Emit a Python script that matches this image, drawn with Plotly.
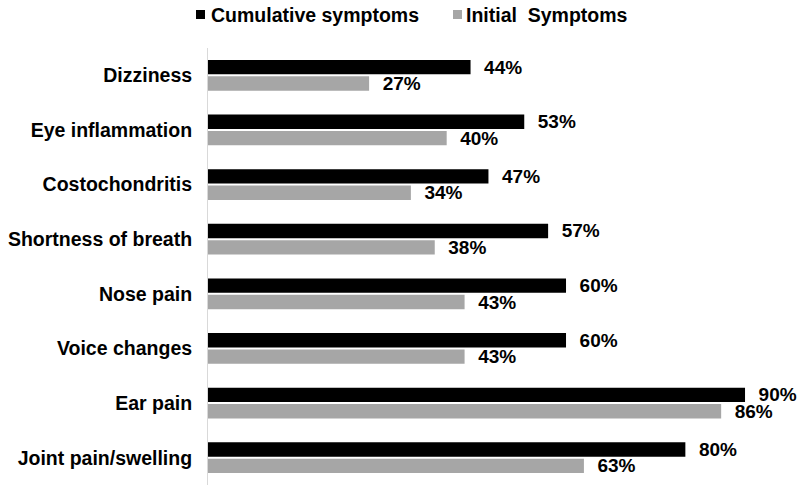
import plotly.graph_objects as go

categories = ["Dizziness", "Eye inflammation", "Costochondritis", "Shortness of breath",
              "Nose pain", "Voice changes", "Ear pain", "Joint pain/swelling"]
cumulative = [44, 53, 47, 57, 60, 60, 90, 80]
initial = [27, 40, 34, 38, 43, 43, 86, 63]
series_names = ["Cumulative symptoms", "Initial\u00a0 Symptoms"]
series_colors = ["#000000", "#a6a6a6"]

FONT = "Liberation Sans, Arial, sans-serif"

# plot-area geometry (pixels)
L, R, T, B = 208, 10, 48, 9
W, H = 800, 494
PW, PH = W - L - R, H - T - B


def px_x(p):
    return (p - L) / PW


def px_y(p):
    return (H - B - p) / PH


fig = go.Figure()
for name, vals, col in zip(series_names, [cumulative, initial], series_colors):
    fig.add_trace(go.Bar(
        y=categories, x=vals, orientation="h", name=name, showlegend=False,
        marker=dict(color=col, line=dict(width=0)),
        text=[f"\u00a0\u00a0{v}%" for v in vals], textposition="outside", constraintext="none",
        textfont=dict(family=FONT, size=19, color="#000000", weight="bold"),
        cliponaxis=False,
    ))

# legend drawn as squares + text
legend_sq_x = [196, 453]
legend_txt_x = [209, 464]
shapes = []
annotations = []
for name, col, sx, tx in zip(series_names, series_colors, legend_sq_x, legend_txt_x):
    shapes.append(dict(type="rect", xref="paper", yref="paper",
                       x0=px_x(sx), x1=px_x(sx + 9), y0=px_y(19), y1=px_y(10),
                       fillcolor=col, line=dict(width=0)))
    annotations.append(dict(text=name, xref="paper", yref="paper", x=px_x(tx), y=px_y(14.5),
                            xanchor="left", yanchor="middle", showarrow=False,
                            font=dict(family=FONT, size=19.5, color="#000000", weight="bold")))

fig.update_layout(
    width=W, height=H,
    barmode="group", bargap=0.40, bargroupgap=0.12,
    plot_bgcolor="white", paper_bgcolor="white",
    margin=dict(l=L, r=R, t=T, b=B, autoexpand=False),
    font=dict(family=FONT, size=19, color="#000000"),
    showlegend=False,
    shapes=shapes, annotations=annotations,
)
fig.update_xaxes(range=[0, PW / 5.967], showgrid=False, showticklabels=False, zeroline=False,
                 showline=False, ticks="")
fig.update_yaxes(autorange="reversed", showgrid=False, showline=True, linecolor="#d9d9d9",
                 linewidth=1, ticks="", ticklabelstandoff=11, automargin=False,
                 tickfont=dict(family=FONT, size=19.5, color="#000000", weight="bold"))

fig.write_html("out.html", config={"displayModeBar": False},
               post_script="document.body.style.margin='0';")
